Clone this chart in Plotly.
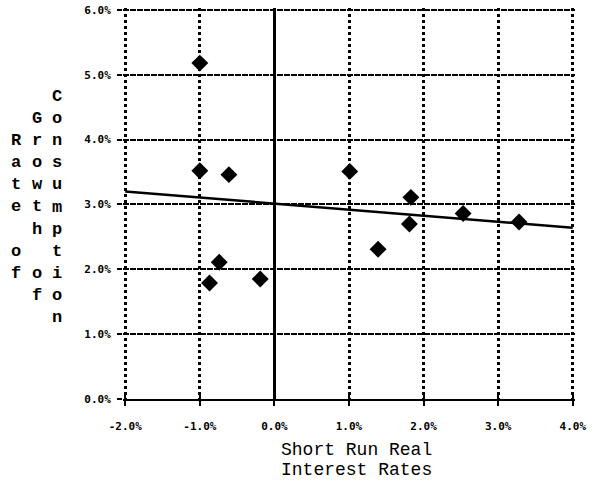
import plotly.graph_objects as go

# Short-run real interest rate (%) vs. rate of growth of consumption (%)
rate_x = [-1.00, -1.00, -0.61, -0.74, -0.87, -0.19, 1.01, 1.39, 1.83, 1.81, 2.53, 3.28]
growth_y = [5.18, 3.52, 3.46, 2.11, 1.79, 1.85, 3.51, 2.31, 3.11, 2.70, 2.86, 2.73]

# fitted trend line end points
trend_x = [-2.0, 4.0]
trend_y = [3.20, 2.64]

x_ticks = [-2, -1, 0, 1, 2, 3, 4]
x_tick_text = ["-2.0%", "-1.0%", "0.0%", "1.0%", "2.0%", "3.0%", "4.0%"]
y_ticks = [0, 1, 2, 3, 4, 5, 6]
y_tick_text = ["0.0%", "1.0%", "2.0%", "3.0%", "4.0%", "5.0%", "6.0%"]

x_title_lines = ["Short Run Real", "Interest Rates"]
y_title_words = ["Rate of", "Growth of", "Consumption"]

TITLE_FONT = "Liberation Mono, Courier New, monospace"
TICK_FONT = dict(family="DejaVu Sans Mono, monospace", size=11, color="black", weight="bold")

# small padding so the frame grid lines at the range ends are kept
X_RANGE = [-2.03, 4.03]
Y_RANGE = [0, 6.03]

fig = go.Figure()

fig.add_trace(go.Scatter(
    x=trend_x, y=trend_y, mode="lines",
    line=dict(color="black", width=2.5),
    showlegend=False, hoverinfo="skip",
))
fig.add_trace(go.Scatter(
    x=rate_x, y=growth_y, mode="markers",
    marker=dict(symbol="diamond", size=13, color="black", line=dict(width=0)),
    showlegend=False,
))

fig.update_layout(
    width=595, height=485,
    margin=dict(l=123, r=20, t=8, b=86),
    paper_bgcolor="white", plot_bgcolor="white",
    xaxis=dict(
        range=X_RANGE, tickvals=x_ticks, ticktext=x_tick_text, automargin=False,
        showgrid=True, gridcolor="black", gridwidth=2.5, griddash="3px,3px",
        zeroline=True, zerolinecolor="black", zerolinewidth=2.5,
        showline=True, linecolor="black", linewidth=2,
        ticks="outside", ticklen=5, tickwidth=2, tickcolor="black",
        ticklabelstandoff=11, tickfont=TICK_FONT,
    ),
    xaxis2=dict(
        range=X_RANGE, overlaying="x", anchor="y", side="bottom", automargin=False,
        tickvals=x_ticks, ticks="inside", ticklen=5, tickwidth=2, tickcolor="black",
        showticklabels=False, showgrid=False, zeroline=False, showline=False,
    ),
    yaxis=dict(
        range=Y_RANGE, tickvals=y_ticks, ticktext=y_tick_text, automargin=False,
        showgrid=True, gridcolor="black", gridwidth=1.5, griddash="6px,1px",
        zeroline=False, showline=False,
        ticks="outside", ticklen=5, tickwidth=2, tickcolor="black",
        ticklabelstandoff=4, tickfont=TICK_FONT,
    ),
)

# invisible trace so the secondary tick axis is drawn
fig.add_trace(go.Scatter(x=[None], y=[None], xaxis="x2", showlegend=False, hoverinfo="skip"))

# x-axis title, two lines
for i, line in enumerate(x_title_lines):
    fig.add_annotation(
        text=line, xref="paper", yref="paper", x=0.516, y=0,
        xanchor="center", yanchor="middle", yshift=-51 - 19.5 * i,
        showarrow=False, font=dict(family=TITLE_FONT, size=18, color="black"),
    )

# y-axis title written as stacked letters, one column per line
col_shift = [-107, -86, -66]
for word, dx in zip(y_title_words, col_shift):
    stacked = "<br>".join(ch if ch != " " else "\u00a0" for ch in word)
    fig.add_annotation(
        text=stacked, xref="paper", yref="paper", x=0, y=0.491,
        xanchor="center", yanchor="middle", xshift=dx, align="center",
        showarrow=False,
        font=dict(family=TITLE_FONT, size=17, color="black", weight="bold"),
    )

fig.write_html("out.html")
